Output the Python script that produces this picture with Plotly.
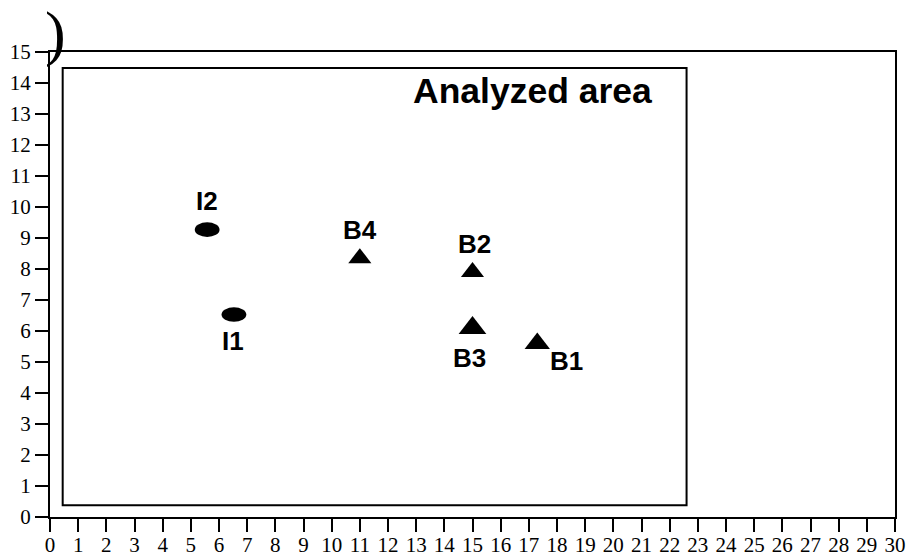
import plotly.graph_objects as go

# ---- data ----
ellipse_names = ["I1", "I2"]
ellipse_x = [6.53, 5.58]
ellipse_y = [6.53, 9.27]

tri_names = ["B1", "B2", "B3", "B4"]
tri_x = [17.3, 15.0, 15.0, 11.0]
tri_y = [5.6, 7.9, 6.1, 8.35]

analyzed_area = [0.45, 22.6, 0.38, 14.48]  # x0, x1, y0, y1
area_label = "Analyzed area"

x_ticks = list(range(0, 31))
y_ticks = list(range(0, 16))

# ---- styling ----
label_offsets = {  # pixel offsets of labels from their marks
    "I1": (-1, -26), "I2": (0, 29),
    "B1": (29, -18), "B2": (2, 28), "B3": (-3, -30), "B4": (0, 28),
}
tri_sizes = {"B1": 22, "B2": 20, "B3": 24, "B4": 20}
RX, RY = 0.44, 0.235

fig = go.Figure()

fig.add_trace(go.Scatter(
    x=tri_x, y=tri_y, mode="markers",
    marker=dict(symbol="triangle-up", color="#000000", opacity=1,
                size=[tri_sizes[n] for n in tri_names], line=dict(width=0)),
    showlegend=False, hoverinfo="text", text=tri_names,
))
fig.add_trace(go.Scatter(
    x=ellipse_x, y=ellipse_y, mode="markers",
    marker=dict(symbol="circle", color="rgba(0,0,0,0)", size=1),
    showlegend=False, hoverinfo="text", text=ellipse_names,
))

shapes = []
for xv, yv in zip(ellipse_x, ellipse_y):
    shapes.append(dict(type="circle", xref="x", yref="y",
                       x0=xv - RX, x1=xv + RX, y0=yv - RY, y1=yv + RY,
                       fillcolor="black", line=dict(color="black", width=0)))
shapes.append(dict(type="rect", xref="x", yref="y",
                   x0=analyzed_area[0], x1=analyzed_area[1],
                   y0=analyzed_area[2], y1=analyzed_area[3],
                   line=dict(color="black", width=2)))

annotations = []
lab_font = dict(family="Liberation Sans, Arial, sans-serif", size=26, color="black")
for names, xs, ys in ((ellipse_names, ellipse_x, ellipse_y), (tri_names, tri_x, tri_y)):
    for n, xv, yv in zip(names, xs, ys):
        dx, dy = label_offsets[n]
        annotations.append(dict(x=xv, y=yv, xref="x", yref="y", text="<b>%s</b>" % n,
                                showarrow=False, xanchor="center", yanchor="middle",
                                xshift=dx, yshift=dy, font=lab_font))
annotations.append(dict(x=analyzed_area[1], y=analyzed_area[3], xref="x", yref="y",
                        text="<b>%s</b>" % area_label, showarrow=False,
                        xanchor="right", yanchor="top", xshift=-33, yshift=-1,
                        font=dict(family="Liberation Sans, Arial, sans-serif", size=35.5, color="black")))
annotations.append(dict(x=0.006, y=1.04, xref="paper", yref="paper", text=")",
                        showarrow=False, xanchor="center", yanchor="middle",
                        font=dict(family="Liberation Serif, Times New Roman, serif", size=62, color="black")))

axis_common = dict(
    showgrid=False, zeroline=False, showline=True, linecolor="black", linewidth=2,
    mirror=True, ticks="outside", ticklen=13, tickwidth=2, tickcolor="black",
    automargin=False,
    tickfont=dict(family="Liberation Serif, Times New Roman, serif", size=21, color="black"),
)

fig.update_layout(
    width=906, height=558,
    margin=dict(l=50, r=11, t=52, b=41),
    paper_bgcolor="white", plot_bgcolor="white",
    shapes=shapes, annotations=annotations,
    xaxis=dict(range=[0, 30], tickvals=x_ticks, ticktext=[str(v) for v in x_ticks],
               ticklabelstandoff=-5, **axis_common),
    yaxis=dict(range=[0, 15], tickvals=y_ticks, ticktext=[str(v) for v in y_ticks], **axis_common),
)

fig.write_html("out.html")
